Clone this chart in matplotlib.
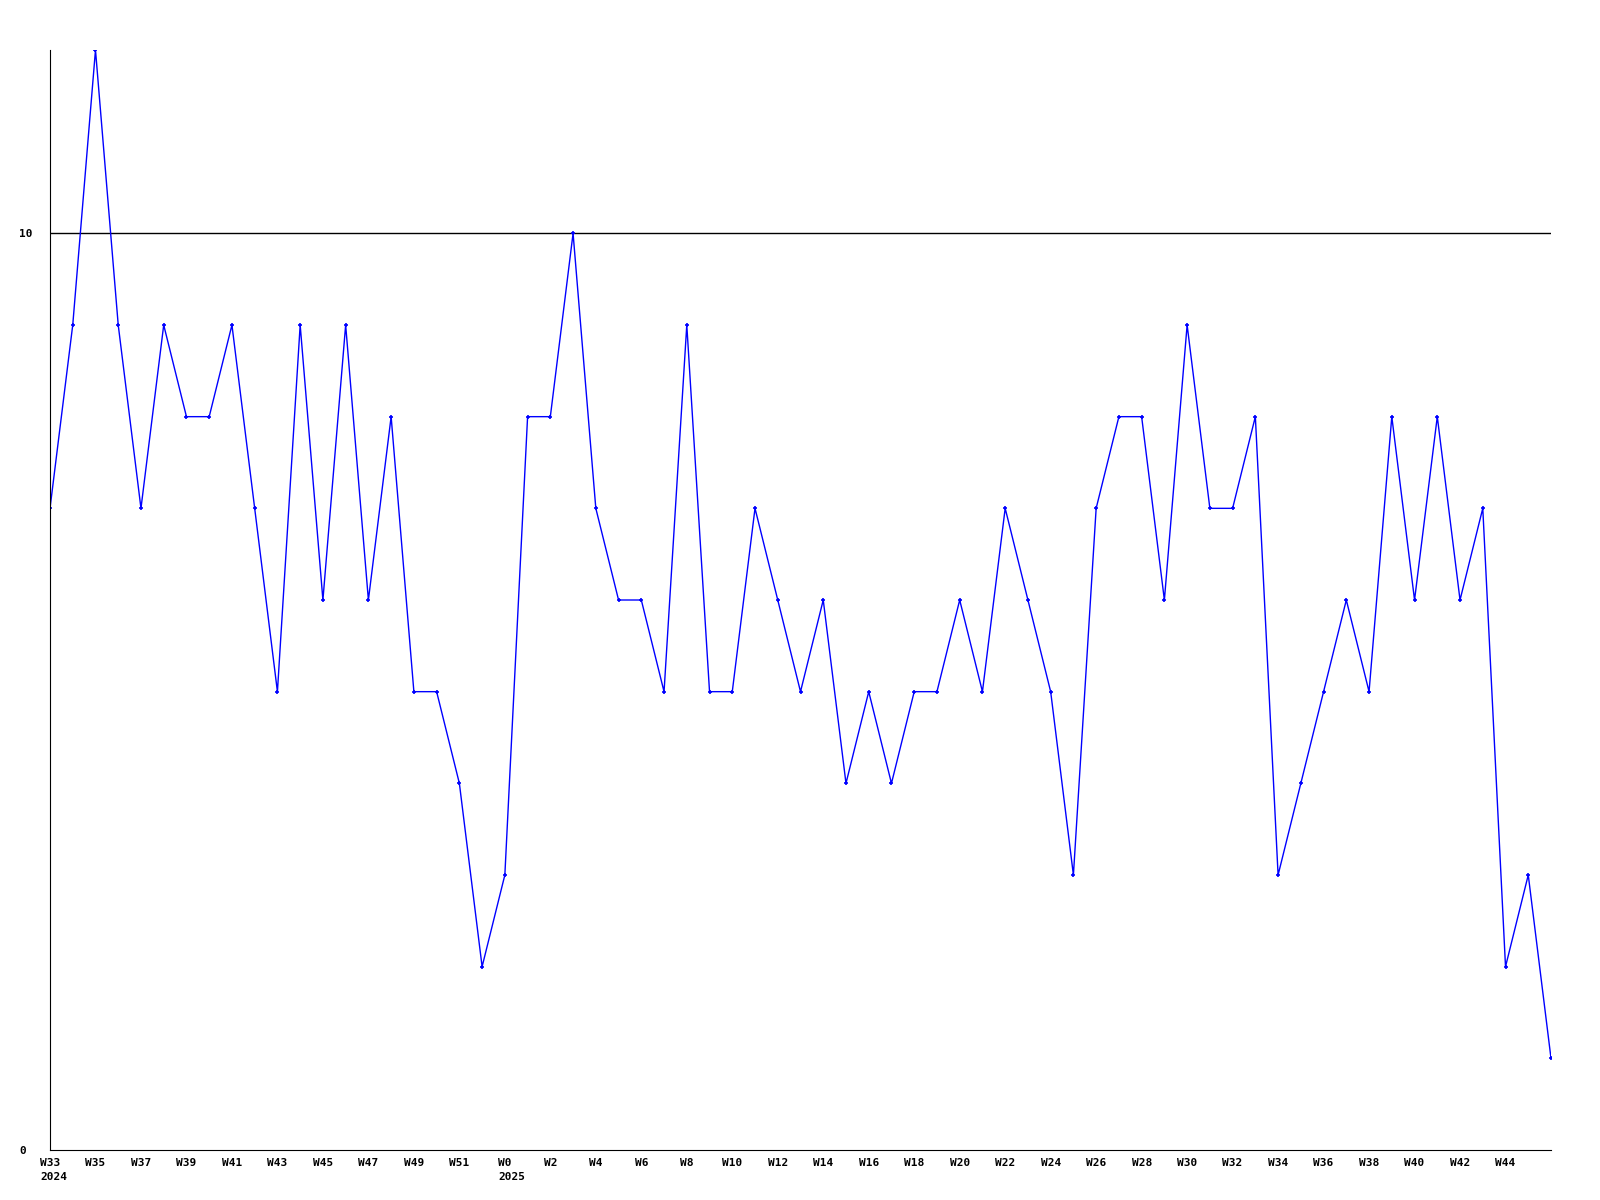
import matplotlib
matplotlib.use('Agg')
import matplotlib.pyplot as plt
import matplotlib.transforms as mtransforms

# weekly values W33 2024 .. W46 2025
weeks_2024 = list(range(33, 53))
weeks_2025 = list(range(0, 47))
values = [7, 9, 12, 9, 7, 9, 8, 8, 9, 7,
          5, 9, 6, 9, 6, 8, 5, 5, 4, 2,
          3, 8, 8, 10, 7, 6, 6, 5, 9, 5,
          5, 7, 6, 5, 6, 4, 5, 4, 5, 5,
          6, 5, 7, 6, 5, 3, 7, 8, 8, 6,
          9, 7, 7, 8, 3, 4, 5, 6, 5, 8,
          6, 8, 6, 7, 2, 3, 1]

labels = [f'W{w}' for w in weeks_2024] + [f'W{w}' for w in weeks_2025]
years = {0: '2024', len(weeks_2024): '2025'}
x = list(range(len(values)))

plt.rcParams['font.family'] = 'DejaVu Sans Mono'
plt.rcParams['font.weight'] = 'bold'
fs = 8

fig = plt.figure(figsize=(16, 12), dpi=100)
ax = fig.add_axes([50/1600, 50/1200, 1501/1600, 1100/1200])

ax.axhline(10, color='black', lw=1)
ax.plot(x, values, color='blue', lw=1, marker='+', markersize=3, mew=1.2)

ax.set_xlim(0, len(values) - 1)
ax.set_ylim(0, 12)
ax.set_yticks([0, 10])
ax.set_yticklabels(['0', '10'], fontsize=fs, ha='left')
tick_idx = x[:-1:2]
ax.set_xticks(tick_idx)
ax.set_xticklabels([labels[i] for i in tick_idx], fontsize=fs)
ax.tick_params(axis='x', length=0, pad=6)
ax.tick_params(axis='y', length=0, pad=22)

# year under the first week of each year, left-aligned with the week label
char_w = 0.602 * fs
for i, yr in years.items():
    off = mtransforms.offset_copy(ax.get_xaxis_transform(), fig=fig,
                                  x=-len(labels[i]) * char_w / 2, y=-16, units='points')
    ax.text(i, 0, yr, transform=off, ha='left', va='top', fontsize=fs)

ax.spines['top'].set_visible(False)
ax.spines['right'].set_visible(False)

fig.savefig('out.png')
